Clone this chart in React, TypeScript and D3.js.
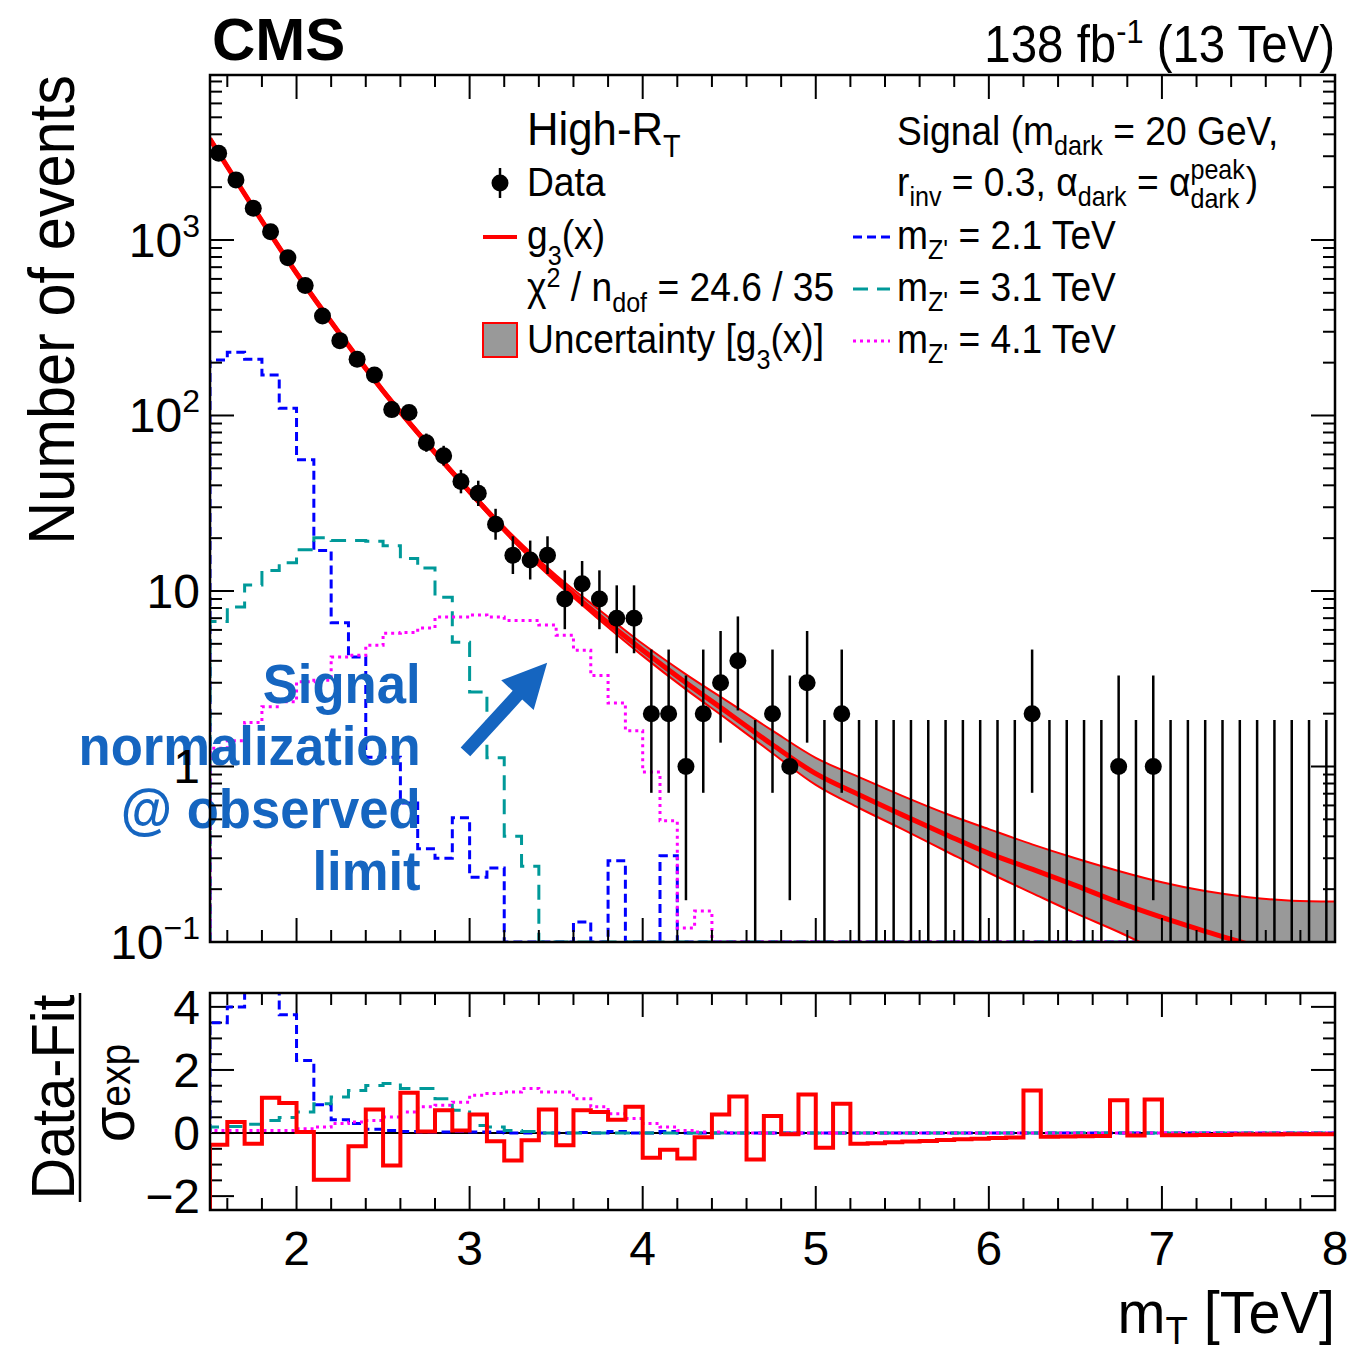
import React from 'react';
import * as d3 from 'd3';

// 65 bins of 0.1 TeV between 1.5 and 8.0 TeV
const binEdges = d3.range(66).map(i => Math.round((1.5 + 0.1 * i) * 10) / 10);

const dataCounts = [
  3120, 2200, 1517, 1115, 792, 550, 369, 267, 209, 170,
  108, 104, 70, 59, 42, 36, 24, 16, 15, 16,
  9, 11, 9, 7, 7, 2, 2, 1, 2, 3,
  4, 0, 2, 1, 3, 0, 2, 0, 0, 0,
  0, 0, 0, 0, 0, 0, 0, 2, 0, 0,
  0, 0, 1, 0, 1, 0, 0, 0, 0, 0,
  0, 0, 0, 0, 0,
];

// Garwood 68% intervals for small counts
const poissonLo = [0, 0.173, 0.708, 1.367, 2.086, 2.84, 3.62, 4.419, 5.232, 6.057, 6.891];
const poissonHi = [1.841, 3.3, 4.638, 5.918, 7.163, 8.382, 9.584, 10.77, 11.95, 13.11, 14.27];

const fitX = [1.5, 1.75, 2, 2.25, 2.5, 2.75, 3, 3.25, 3.5, 3.75, 4, 4.25, 4.5, 4.75, 5, 5.25, 5.5, 5.75, 6, 6.25, 6.5, 6.75, 7, 7.25, 7.5, 7.75, 8];
const fitCentral = [3758, 1531, 646, 292, 138, 70, 36.8, 20, 11.7, 7.2, 4.6, 3.0, 2.0, 1.33, 0.91, 0.69, 0.53, 0.41, 0.32, 0.26, 0.21, 0.168, 0.138, 0.115, 0.097, 0.082, 0.071];
const fitUp = [3864, 1574, 664, 300, 142, 72, 37.8, 20.7, 12.3, 7.8, 5.0, 3.35, 2.32, 1.6, 1.12, 0.87, 0.68, 0.54, 0.44, 0.36, 0.3, 0.254, 0.219, 0.195, 0.18, 0.172, 0.17];
const fitDown = [3656, 1489, 628, 284, 134, 68, 35.8, 19.3, 11.2, 6.84, 4.27, 2.75, 1.82, 1.19, 0.785, 0.58, 0.44, 0.33, 0.248, 0.19, 0.146, 0.114, 0.087, 0.068, 0.052, 0.04, 0.032];

const sigZ21 = [
  207, 229, 209, 170, 110, 56, 17, 6.6, 4.2, 1.13,
  1.13, 0.62, 0.34, 0.3, 0.51, 0.234, 0.264, 0, 0, 0,
  0, 0.13, 0, 0.29, 0, 0, 0.31, 0, 0, 0,
  0, 0, 0, 0, 0, 0, 0, 0, 0, 0,
  0, 0, 0, 0, 0, 0, 0, 0, 0, 0,
  0, 0, 0, 0, 0, 0, 0, 0, 0, 0,
  0, 0, 0, 0, 0,
];
const sigZ31 = [
  6.7, 8.1, 10.8, 13.1, 14.5, 17.2, 20.1, 19.4, 19.4, 19.2,
  18.1, 15.3, 13.5, 9.2, 5.1, 2.66, 1.12, 0.4, 0.27, 0,
  0, 0, 0, 0, 0, 0, 0, 0, 0, 0,
  0, 0, 0, 0, 0, 0, 0, 0, 0, 0,
  0, 0, 0, 0, 0, 0, 0, 0, 0, 0,
  0, 0, 0, 0, 0, 0, 0, 0, 0, 0,
  0, 0, 0, 0, 0,
];
const sigZ41 = [
  1.27, 1.4, 1.78, 2.19, 2.34, 3.04, 3.1, 4.2, 4.3, 4.9,
  5.75, 5.8, 6.15, 7.1, 7.1, 7.3, 7.1, 6.8, 6.8, 6.4,
  5.6, 4.6, 3.3, 2.3, 1.6, 0.93, 0.49, 0.12, 0.15, 0,
  0, 0, 0, 0, 0, 0, 0, 0, 0, 0,
  0, 0, 0, 0, 0, 0, 0, 0, 0, 0,
  0, 0, 0, 0, 0, 0, 0, 0, 0, 0,
  0, 0, 0, 0, 0,
];

const pullData = [
  -0.37, 0.35, -0.34, 1.12, 0.95, 0.03, -1.48, -1.48, -0.42, 0.75,
  -1.03, 1.28, 0.05, 0.72, 0.08, 0.59, -0.26, -0.87, -0.23, 0.75,
  -0.39, 0.72, 0.67, 0.42, 0.83, -0.78, -0.53, -0.81, -0.13, 0.59,
  1.16, -0.84, 0.54, -0.04, 1.22, -0.47, 0.93, -0.34, -0.32, -0.29,
  -0.27, -0.25, -0.22, -0.2, -0.18, -0.16, -0.14, 1.35, -0.12, -0.11,
  -0.1, -0.09, 1.04, -0.08, 1.06, -0.07, -0.07, -0.06, -0.06, -0.05,
  -0.05, -0.05, -0.04, -0.04, -0.04,
];
const pullZ21 = [
  3.5, 4.0, 5.0, 5.0, 3.75, 2.3, 0.9, 0.42, 0.3, 0.12,
  0.08, 0.05, 0.03, 0.03, 0.05, 0.03, 0.03, 0, 0, 0,
  0, 0.02, 0, 0.05, 0, 0, 0.05, 0, 0, 0,
  0, 0, 0, 0, 0, 0, 0, 0, 0, 0,
  0, 0, 0, 0, 0, 0, 0, 0, 0, 0,
  0, 0, 0, 0, 0, 0, 0, 0, 0, 0,
  0, 0, 0, 0, 0,
];
const pullZ31 = [
  0.19, 0.21, 0.28, 0.4, 0.49, 0.67, 0.93, 1.14, 1.35, 1.51,
  1.57, 1.41, 1.41, 1.09, 0.72, 0.24, 0.19, 0.08, 0.05, 0,
  0, 0, 0, 0, 0, 0, 0, 0, 0, 0,
  0, 0, 0, 0, 0, 0, 0, 0, 0, 0,
  0, 0, 0, 0, 0, 0, 0, 0, 0, 0,
  0, 0, 0, 0, 0, 0, 0, 0, 0, 0,
  0, 0, 0, 0, 0,
];
const pullZ41 = [
  0.08, 0.08, 0.08, 0.08, 0.08, 0.14, 0.19, 0.3, 0.35, 0.4,
  0.51, 0.67, 0.83, 0.88, 0.98, 1.2, 1.25, 1.3, 1.41, 1.3,
  1.3, 1.09, 0.83, 0.61, 0.46, 0.3, 0.19, 0.08, 0.03, 0.03,
  0, 0, 0, 0, 0, 0, 0, 0, 0, 0,
  0, 0, 0, 0, 0, 0, 0, 0, 0, 0,
  0, 0, 0, 0, 0, 0, 0, 0, 0, 0,
  0, 0, 0, 0, 0,
];

const xTickLabels = ['2', '3', '4', '5', '6', '7', '8'];
const ratioTickLabels = ['−2', '0', '2', '4'];

const FONT = "'Liberation Sans', Arial, Helvetica, sans-serif";
const BLUE = '#0000ff';
const TEAL = '#009999';
const MAGENTA = '#ff00ff';
const RED = '#ff0000';
const NOTE = '#1565c0';

const signals = [
  { vals: sigZ21, pull: pullZ21, color: BLUE, dash: '9,5' },
  { vals: sigZ31, pull: pullZ31, color: TEAL, dash: '15,9' },
  { vals: sigZ41, pull: pullZ41, color: MAGENTA, dash: '3,4' },
];

// text with ROOT-like slightly condensed glyphs
const T: React.FC<any> = ({ x, y, fs, anchor = 'start', sx = 0.93, bold = false, fill = '#000', rotate = 0, children }) => (
  <g transform={`translate(${x},${y})${rotate ? ` rotate(${rotate})` : ''} scale(${sx},1)`}>
    <text fontSize={fs} textAnchor={anchor} fontWeight={bold ? 'bold' : 'normal'} fill={fill} fontFamily={FONT}>
      {children}
    </text>
  </g>
);

export default function App() {
  const L = 210, R = 1335, TOP = 75, BOT = 942, RTOP = 993, RBOT = 1210;
  const yMin = 0.1;

  const x = d3.scaleLinear().domain([1.5, 8]).range([L, R]);
  const y = d3.scaleLog().domain([yMin, 8710]).range([BOT, TOP]);
  const yr = d3.scaleLinear().domain([-2.44, 4.44]).range([RBOT, RTOP]);

  const stepPath = (vals: number[], yFn: (v: number) => number, base: number) => {
    let d = `M${x(binEdges[0])},${base}`;
    vals.forEach((v, i) => {
      const yy = yFn(v);
      d += `L${x(binEdges[i])},${yy}L${x(binEdges[i + 1])},${yy}`;
    });
    return d;
  };
  const yMain = (v: number) => y(Math.max(v, yMin));

  const fitLine = d3.line<number>()
    .x((_, i) => x(fitX[i]))
    .y(v => y(v))
    .curve(d3.curveMonotoneX);
  const band = d3.area<number>()
    .x((_, i) => x(fitX[i]))
    .y0((_, i) => y(fitDown[i]))
    .y1(v => y(v))
    .curve(d3.curveMonotoneX);

  // ticks
  const xTicks = d3.range(16, 81, 2).map(v => v / 10);
  const isMajorX = (v: number) => Math.abs(v - Math.round(v)) < 1e-6;
  const logTicks: { v: number; major: boolean }[] = [];
  [-1, 0, 1, 2, 3].forEach(d => {
    for (let k = 1; k <= 9; k++) {
      const v = k * Math.pow(10, d);
      if (v <= 8710) logTicks.push({ v, major: k === 1 });
    }
  });
  const rTicks = d3.range(-4, 9).map(v => v / 2);

  const maj = 24, mnr = 12;

  // arrow in data coordinates
  const tail = [x(2.976), y(1.21)];
  const tip = [x(3.448), y(3.9)];
  const ang = Math.atan2(tip[1] - tail[1], tip[0] - tail[0]);
  const ux = Math.cos(ang), uy = Math.sin(ang);
  const nx = -uy, ny = ux;
  const headLen = 44, headW = 22, shaftW = 6.5;
  const hb = [tip[0] - ux * headLen, tip[1] - uy * headLen];
  const arrowPts = [
    [tail[0] + nx * shaftW, tail[1] + ny * shaftW],
    [hb[0] + nx * shaftW, hb[1] + ny * shaftW],
    [hb[0] + nx * headW, hb[1] + ny * headW],
    tip,
    [hb[0] - nx * headW, hb[1] - ny * headW],
    [hb[0] - nx * shaftW, hb[1] - ny * shaftW],
    [tail[0] - nx * shaftW, tail[1] - ny * shaftW],
  ].map(p => p.join(',')).join(' ');

  const centers = dataCounts.map((_, i) => (binEdges[i] + binEdges[i + 1]) / 2);
  const errLo = (n: number) => (n <= 10 ? poissonLo[n] : n - Math.sqrt(n) + 0.5);
  const errHi = (n: number) => (n <= 10 ? poissonHi[n] : n + Math.sqrt(n) + 0.5);

  const yLabels = [
    { v: 0.1, base: '10', sup: '−1' },
    { v: 1, base: '1', sup: '' },
    { v: 10, base: '10', sup: '' },
    { v: 100, base: '10', sup: '2' },
    { v: 1000, base: '10', sup: '3' },
  ];

  return (
    <svg width={1353} height={1353} style={{ position: 'absolute', left: 0, top: 0 }}>
      <rect width={1353} height={1353} fill="#fff" />
      <defs>
        <clipPath id="mainClip"><rect x={L} y={TOP} width={R - L} height={BOT - TOP} /></clipPath>
        <clipPath id="ratioClip"><rect x={L} y={RTOP} width={R - L} height={RBOT - RTOP} /></clipPath>
      </defs>

      {/* ===== main panel ===== */}
      <g clipPath="url(#mainClip)">
        {signals.map((s, i) => (
          <path key={i} d={stepPath(s.vals, yMain, y(yMin))} fill="none" stroke={s.color} strokeWidth={3} strokeDasharray={s.dash} />
        ))}
        <path d={band(fitUp) || ''} fill="#999999" />
        <path d={fitLine(fitUp) || ''} fill="none" stroke={RED} strokeWidth={2} />
        <path d={fitLine(fitDown) || ''} fill="none" stroke={RED} strokeWidth={2} />
        <path d={fitLine(fitCentral) || ''} fill="none" stroke={RED} strokeWidth={5} />
      </g>

      {/* data */}
      <g>
        {dataCounts.map((n, i) => (
          <line key={'e' + i} x1={x(centers[i])} x2={x(centers[i])}
            y1={n === 0 ? y(yMin) : y(Math.max(errLo(n), yMin))} y2={y(errHi(n))}
            stroke="#000" strokeWidth={2.5} />
        ))}
        {dataCounts.map((n, i) => n > 0 && (
          <circle key={'m' + i} cx={x(centers[i])} cy={y(n)} r={8.5} fill="#000" />
        ))}
      </g>

      {/* annotation */}
      <T x={x(2.717)} y={703} fs={56} bold anchor="end" sx={0.94} fill={NOTE}>Signal</T>
      <T x={x(2.717)} y={765} fs={56} bold anchor="end" sx={0.94} fill={NOTE}>normalization</T>
      <T x={x(2.717)} y={828} fs={56} bold anchor="end" sx={0.94} fill={NOTE}>@ observed</T>
      <T x={x(2.717)} y={890} fs={56} bold anchor="end" sx={0.94} fill={NOTE}>limit</T>
      <polygon points={arrowPts} fill={NOTE} />

      {/* frames ticks */}
      <g stroke="#000" strokeWidth={2}>
        {xTicks.map(v => {
          const l = isMajorX(v) ? maj : mnr;
          return (
            <g key={'xt' + v}>
              <line x1={x(v)} x2={x(v)} y1={BOT} y2={BOT - l} />
              <line x1={x(v)} x2={x(v)} y1={TOP} y2={TOP + l} />
              <line x1={x(v)} x2={x(v)} y1={RBOT} y2={RBOT - l} />
              <line x1={x(v)} x2={x(v)} y1={RTOP} y2={RTOP + l} />
            </g>
          );
        })}
        {logTicks.map(t => {
          const l = t.major ? maj : mnr;
          return (
            <g key={'yt' + t.v}>
              <line x1={L} x2={L + l} y1={y(t.v)} y2={y(t.v)} />
              <line x1={R} x2={R - l} y1={y(t.v)} y2={y(t.v)} />
            </g>
          );
        })}
        {rTicks.map(v => {
          const l = Math.abs(v % 2) < 1e-6 ? maj : mnr;
          return (
            <g key={'rt' + v}>
              <line x1={L} x2={L + l} y1={yr(v)} y2={yr(v)} />
              <line x1={R} x2={R - l} y1={yr(v)} y2={yr(v)} />
            </g>
          );
        })}
      </g>
      <rect x={L} y={TOP} width={R - L} height={BOT - TOP} fill="none" stroke="#000" strokeWidth={2.5} />

      {/* ===== ratio panel ===== */}
      <g clipPath="url(#ratioClip)">
        <line x1={L} x2={R} y1={yr(0)} y2={yr(0)} stroke="#000" strokeWidth={2} />
        {signals.map((s, i) => (
          <path key={'r' + i} d={stepPath(s.pull, v => yr(v), yr(0))} fill="none" stroke={s.color} strokeWidth={3} strokeDasharray={s.dash} />
        ))}
        <path d={stepPath(pullData, v => yr(v), RBOT)} fill="none" stroke={RED} strokeWidth={4} />
      </g>
      <rect x={L} y={RTOP} width={R - L} height={RBOT - RTOP} fill="none" stroke="#000" strokeWidth={2.5} />

      {/* tick labels */}
      <g fontFamily={FONT} fontSize={48} fill="#000">
        {yLabels.map(l => (
          <text key={'yl' + l.v} x={200} y={y(l.v) + 17} textAnchor="end">
            {l.base}
            {l.sup && <tspan fontSize={32} dy={-20}>{l.sup}</tspan>}
          </text>
        ))}
        {[-2, 0, 2, 4].map((v, i) => (
          <text key={'rl' + v} x={200} y={yr(v) + 17} textAnchor="end">{ratioTickLabels[i]}</text>
        ))}
        {[2, 3, 4, 5, 6, 7, 8].map((v, i) => (
          <text key={'xl' + v} x={x(v)} y={1265} textAnchor="middle">{xTickLabels[i]}</text>
        ))}
      </g>

      {/* axis titles */}
      <T x={1335} y={1333} fs={60} sx={0.96} anchor="end">
        m<tspan fontSize={38} dy={11}>T</tspan><tspan dy={-11}>{' [TeV]'}</tspan>
      </T>
      <T x={74} y={75} fs={64} anchor="end" rotate={-90}>Number of events</T>
      <T x={74} y={1097} fs={62} anchor="middle" rotate={-90}>Data-Fit</T>
      <line x1={80} x2={80} y1={993} y2={1202} stroke="#000" strokeWidth={2.5} />
      <T x={134} y={1093} fs={62} anchor="middle" rotate={-90}>
        σ<tspan fontSize={42} dy={-4}>exp</tspan>
      </T>

      {/* header */}
      <T x={212} y={60} fs={60} bold sx={1}>CMS</T>
      <T x={1335} y={62} fs={51} anchor="end">
        {'138 fb'}<tspan fontSize={33} dy={-19}>-1</tspan><tspan dy={19}>{' (13 TeV)'}</tspan>
      </T>

      {/* legend: left column */}
      <T x={527} y={145} fs={47}>
        High-R<tspan fontSize={31} dy={12}>T</tspan>
      </T>
      <line x1={500} x2={500} y1={168} y2={198} stroke="#000" strokeWidth={2.5} />
      <circle cx={500} cy={183} r={8.5} fill="#000" />
      <T x={527} y={196} fs={40}>Data</T>
      <line x1={483} x2={517} y1={237} y2={237} stroke={RED} strokeWidth={4} />
      <T x={527} y={249} fs={40}>
        g<tspan fontSize={27} dy={16}>3</tspan><tspan dy={-16}>(x)</tspan>
      </T>
      <T x={527} y={301} fs={40}>
        χ<tspan fontSize={27} dy={-14}>2</tspan><tspan dy={14}>{' / n'}</tspan>
        <tspan fontSize={27} dy={11}>dof</tspan><tspan dy={-11}>{' = 24.6 / 35'}</tspan>
      </T>
      <rect x={483} y={323} width={34} height={34} fill="#999999" stroke={RED} strokeWidth={2} />
      <T x={527} y={353} fs={40}>
        {'Uncertainty [g'}<tspan fontSize={27} dy={16}>3</tspan><tspan dy={-16}>{'(x)]'}</tspan>
      </T>

      {/* legend: right column */}
      <T x={897} y={145} fs={40}>
        {'Signal (m'}<tspan fontSize={27} dy={10}>dark</tspan><tspan dy={-10}>{' = 20 GeV,'}</tspan>
      </T>
      <T x={897} y={196} fs={40}>
        r<tspan fontSize={27} dy={10}>inv</tspan><tspan dy={-10}>{' = 0.3, α'}</tspan>
        <tspan fontSize={27} dy={10}>dark</tspan><tspan dy={-10}>{' = α'}</tspan>
        <tspan fontSize={27} dy={-17}>peak</tspan>
        <tspan fontSize={27} dx={-58.5} dy={29}>dark</tspan>
        <tspan dx={7} dy={-12}>)</tspan>
      </T>
      {signals.map((s, i) => (
        <g key={'lg' + i}>
          <line x1={853} x2={890} y1={237 + 52 * i} y2={237 + 52 * i} stroke={s.color} strokeWidth={3} strokeDasharray={s.dash} />
          <T x={897} y={249 + 52 * i} fs={40}>
            m<tspan fontSize={27} dy={10}>Z'</tspan><tspan dy={-10}>{` = ${['2.1', '3.1', '4.1'][i]} TeV`}</tspan>
          </T>
        </g>
      ))}
    </svg>
  );
}
